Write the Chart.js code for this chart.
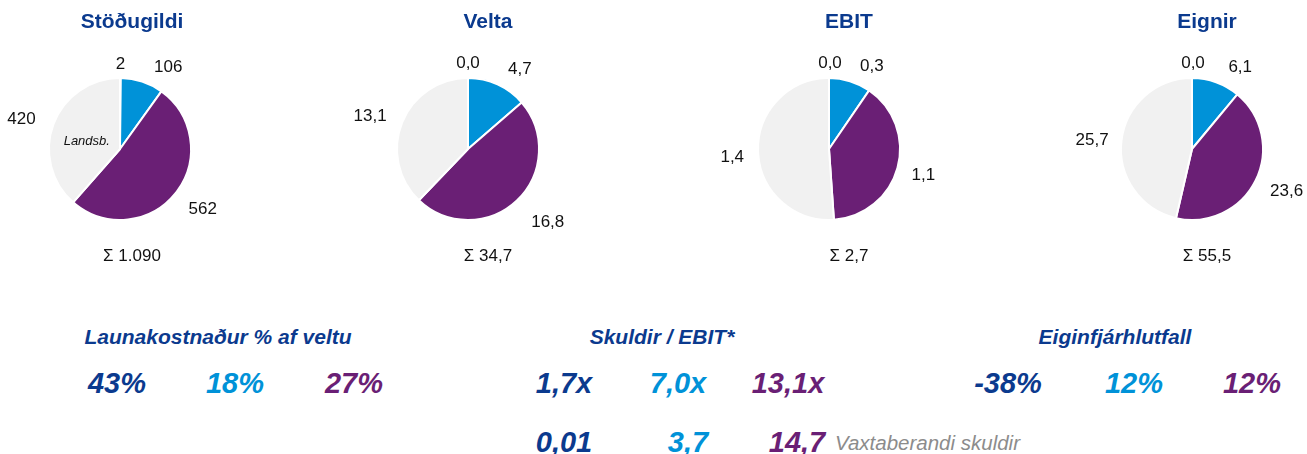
<!DOCTYPE html>
<html>
<head>
<meta charset="utf-8">
<script src="https://cdn.jsdelivr.net/npm/chart.js@4.4.1/dist/chart.umd.min.js"></script>
<style>
  body { margin: 0; background: #fff; }
  #wrap { position: relative; width: 1307px; height: 454px; overflow: hidden; font-family: "Liberation Sans", Arial, sans-serif; }
  #wrap canvas { position: absolute; top: 0; }
  .t { position: absolute; transform: translate(-50%, -50%); white-space: nowrap; line-height: 1; font-style: italic; font-weight: bold; }
  .kt { font-size: 21px; color: #0b3a8e; }
  .kv { font-size: 29px; }
  .note { position: absolute; transform: translateY(-50%); white-space: nowrap; line-height: 1; font-style: italic; font-size: 20.5px; color: #8c8c8c; }
</style>
</head>
<body>
<div id="wrap"></div>
<script>
// data
const segments = ['A', 'B', 'C', 'Landsb.'];
const pieTitles = ['Stöðugildi', 'Velta', 'EBIT', 'Eignir'];
const stodugildi = [2, 106, 562, 420];
const velta = [0, 4.74, 16.84, 13.14];
const ebit = [0, 0.26, 1.07, 1.39];
const eignir = [0, 6.12, 23.64, 25.74];
const pieDecimals = [0, 1, 1, 1];

const kpiTitles = ['Launakostnaður % af veltu', 'Skuldir / EBIT*', 'Eiginfjárhlutfall'];
const launakostnadur = [43, 18, 27];
const skuldirEbit = [1.7, 7.0, 13.1];
const vaxtaberandiSkuldir = [0.01, 3.7, 14.7];
const eiginfjarhlutfall = [-38, 12, 12];
const noteLabel = 'Vaxtaberandi skuldir';

// colours
const darkBlue = '#0b3a8e', lightBlue = '#0092d8', purple = '#6a1f75', grey = '#f1f1f1';
const segColors = [darkBlue, lightBlue, purple, grey];
const valColors = [darkBlue, lightBlue, purple];

function fmt(v, d) {
  let s = Math.abs(v).toFixed(d).split('.');
  let i = s[0].replace(/\B(?=(\d{3})+(?!\d))/g, '.');
  return (v < 0 ? '-' : '') + i + (d > 0 ? ',' + s[1] : '');
}

// layout
const W = 300, H = 280, R = 71, CY = 149;
const pieCx = [120, 468, 829, 1192];
const titleCx = [132, 488, 849, 1207];
const gap = 18;
const nudges = [
  [[0, 11], [16, 9], [2, 1], [-2, 4]],
  [[0, 10], [10, 7], [7, 4], [0, 3]],
  [[1, 10], [13, 9], [-3, 1], [4, 5]],
  [[1, 10], [14, 8], [0, 0], [5, 2]]
];

const wrap = document.getElementById('wrap');
const pieData = [stodugildi, velta, ebit, eignir];

const labelPlugin = {
  id: 'pieLabels',
  afterDatasetsDraw(chart, args, opts) {
    const ctx = chart.ctx;
    const meta = chart.getDatasetMeta(0);
    const data = chart.data.datasets[0].data;
    ctx.save();
    ctx.textAlign = 'center';
    ctx.textBaseline = 'middle';
    ctx.fillStyle = '#111';
    ctx.font = '17px "Liberation Sans", Arial, sans-serif';
    meta.data.forEach((el, i) => {
      const p = el.getProps(['x', 'y', 'startAngle', 'endAngle', 'outerRadius'], true);
      const mid = (p.startAngle + p.endAngle) / 2;
      const ux = Math.cos(mid), uy = Math.sin(mid);
      const txt = fmt(data[i], opts.dec);
      const w = ctx.measureText(txt).width, h = 13;
      const n = opts.nudge[i];
      const x = p.x + (p.outerRadius + gap) * ux + ux * w / 2 + n[0];
      const y = p.y + (p.outerRadius + gap) * uy + uy * h / 2 + n[1];
      ctx.fillText(txt, x, y);
      if (opts.inner && chart.data.labels[i] === 'Landsb.') {
        const tp = el.tooltipPosition(true);
        ctx.font = 'italic 13px "Liberation Sans", Arial, sans-serif';
        ctx.fillText(chart.data.labels[i], tp.x, tp.y + 5);
        ctx.font = '17px "Liberation Sans", Arial, sans-serif';
      }
    });
    // title and sum
    const mid = W / 2;
    ctx.fillStyle = darkBlue;
    ctx.font = 'bold 21px "Liberation Sans", Arial, sans-serif';
    ctx.fillText(opts.title, mid, 22);
    ctx.fillStyle = '#111';
    ctx.font = '17px "Liberation Sans", Arial, sans-serif';
    const sum = data.reduce((a, b) => a + b, 0);
    ctx.fillText('Σ ' + fmt(sum, opts.dec), mid, 256);
    ctx.restore();
  }
};

pieData.forEach((vals, k) => {
  const c = document.createElement('canvas');
  c.width = W; c.height = H;
  c.style.width = W + 'px'; c.style.height = H + 'px';
  const left = titleCx[k] - W / 2;
  c.style.left = left + 'px';
  wrap.appendChild(c);
  const lx = pieCx[k] - left;
  const rr = R + 1;
  new Chart(c, {
    type: 'pie',
    data: {
      labels: segments,
      datasets: [{
        data: vals,
        backgroundColor: segColors,
        borderColor: '#fff',
        borderWidth: 2
      }]
    },
    options: {
      responsive: false,
      animation: false,
      devicePixelRatio: 1,
      events: [],
      layout: { padding: { top: CY - rr, bottom: H - CY - rr, left: lx - rr, right: W - lx - rr } },
      plugins: {
        legend: { display: false },
        tooltip: { enabled: false },
        pieLabels: { dec: pieDecimals[k], nudge: nudges[k], title: pieTitles[k], inner: k === 0 }
      }
    },
    plugins: [labelPlugin]
  });
});

// KPI texts
function addText(cls, txt, x, y, color) {
  const d = document.createElement('div');
  d.className = cls;
  d.textContent = txt;
  d.style.left = x + 'px';
  d.style.top = y + 'px';
  if (color) d.style.color = color;
  wrap.appendChild(d);
  return d;
}
const kpiTitleX = [218, 662, 1115];
kpiTitles.forEach((t, i) => addText('t kt', t, kpiTitleX[i], 336));

const rowY = 383, row2Y = 442;
const xLaun = [117, 235, 354], xSk = [564, 678, 788], xEig = [1008, 1134, 1252], xVax = [564, 688, 797];
launakostnadur.forEach((v, i) => addText('t kv', v + '%', xLaun[i], rowY, valColors[i]));
skuldirEbit.forEach((v, i) => addText('t kv', fmt(v, 1) + 'x', xSk[i], rowY, valColors[i]));
eiginfjarhlutfall.forEach((v, i) => addText('t kv', v + '%', xEig[i], rowY, valColors[i]));
vaxtaberandiSkuldir.forEach((v, i) => addText('t kv', fmt(v, v < 1 ? 2 : 1), xVax[i], row2Y, valColors[i]));
const note = addText('note', noteLabel, 835, row2Y + 1);
</script>
</body>
</html>
